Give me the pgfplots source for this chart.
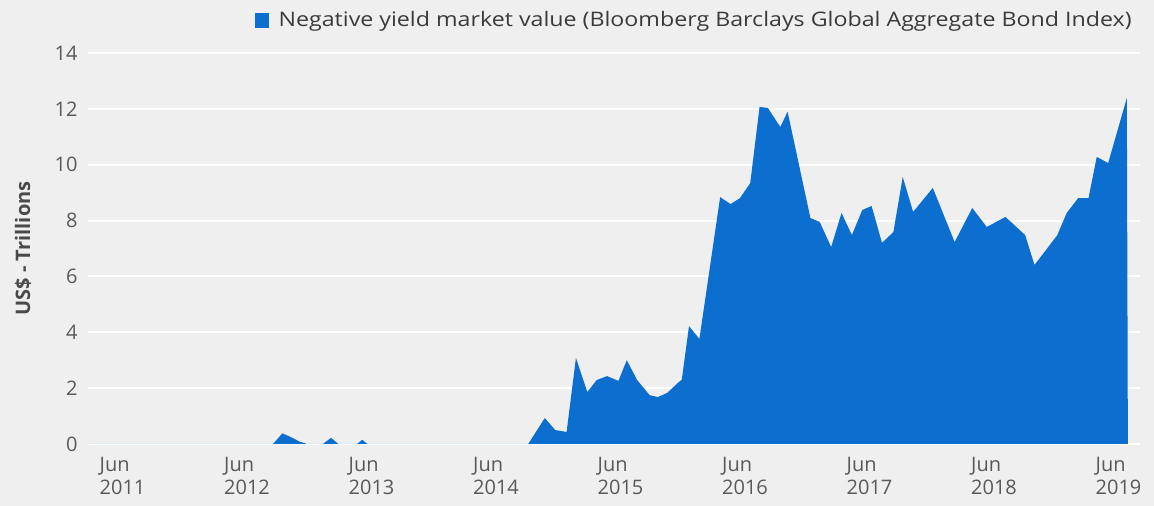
\documentclass[border=0pt]{standalone}
\usepackage{fontspec}
\setmainfont{Open Sans}
\usepackage{graphicx}
\usepackage{pgfplots}
\pgfplotsset{compat=1.18}
\definecolor{bg}{HTML}{EFEFEF}
\definecolor{fillblue}{HTML}{0C6ECE}
\definecolor{ticktext}{HTML}{595959}
\definecolor{labtext}{HTML}{3A3A3A}
\definecolor{ylabtext}{HTML}{4A4A4A}
\begin{document}
\begin{tikzpicture}[x=1pt,y=1pt]
\fill[bg] (-44,-31) rectangle (533,222);
\useasboundingbox (-44,-31) rectangle (533,222);
\begin{axis}[
  at={(0,0)}, anchor=south west,
  scale only axis, width=526pt, height=195.5pt,
  xmin=-3.33, xmax=98.07, ymin=0, ymax=14,
  axis line style={draw=none},
  major tick length=0pt,
  ymajorgrids, major grid style={white, line width=1pt},
  ytick={0,2,...,14},
  xtick={0,12,...,96},
  xticklabels={{Jun\\2011},{Jun\\2012},{Jun\\2013},{Jun\\2014},{Jun\\2015},{Jun\\2016},{Jun\\2017},{Jun\\2018},{Jun\\2019}},
  xticklabel style={align=left, font=\fontsize{10}{11.5}\selectfont, text=ticktext, yshift=-3pt},
  yticklabel style={font=\fontsize{10}{12}\selectfont, text=ticktext, xshift=-1.7pt},
  /pgf/number format/assume math mode=true,
  ylabel={US\$ - Trillions},
  ylabel style={at={(axis description cs:-0.0618,0.5)}, anchor=center, font=\bfseries\fontsize{10}{12}\selectfont, text=ylabtext},
  legend style={at={(axis description cs:1,1)}, anchor=south east, draw=none, fill=none,
    font=\fontsize{10}{12}\selectfont, text=labtext, yshift=7.5pt, xshift=1pt},
  legend image code/.code={\fill[fillblue] (0pt,-3.75pt) rectangle (7pt,3.75pt); \path[draw=none,fill=none] (0pt,0pt) -- (10pt,0pt);},
]
\addplot[fill=fillblue, draw=none] coordinates {
(-3.33,0) (0,0) (14.5,0) (15.4,0.38) (16.1,0.27) (17.1,0.08) (17.8,0)
(19.3,0) (20.1,0.22) (20.8,0)
(22.6,0) (23.1,0.15) (23.6,0)
(39.1,0) (40.7,0.93) (41.7,0.5) (42.8,0.43) (43.7,3.08) (44.8,1.86)
(45.7,2.29) (46.7,2.43) (47.8,2.26) (48.6,3.0) (49.6,2.29) (50.8,1.75)
(51.6,1.68) (52.5,1.83) (53.5,2.18) (53.9,2.3) (54.6,4.22) (55.6,3.76)
(57.6,8.84) (58.6,8.59) (59.5,8.8) (60.5,9.34) (61.4,12.07) (62.2,12.03)
(63.4,11.35) (64.1,11.9) (66.3,8.09) (67.2,7.95) (68.3,7.05) (69.3,8.27)
(70.3,7.48) (71.3,8.38) (72.2,8.52) (73.2,7.2) (74.3,7.59) (75.2,9.56)
(76.2,8.31) (78.1,9.17) (80.2,7.23) (81.9,8.45) (83.3,7.77) (85.1,8.13)
(87.0,7.48) (87.9,6.41) (90.1,7.48) (91.0,8.27) (92.1,8.8) (93.1,8.8)
(93.9,10.28) (95.0,10.06) (96.8,12.39) (96.9,0)
} \closedcycle;
\addlegendentry{\scalebox{1.16}[1]{Negative yield market value (Bloomberg Barclays Global Aggregate Bond Index)}}
\end{axis}
\end{tikzpicture}
\end{document}
